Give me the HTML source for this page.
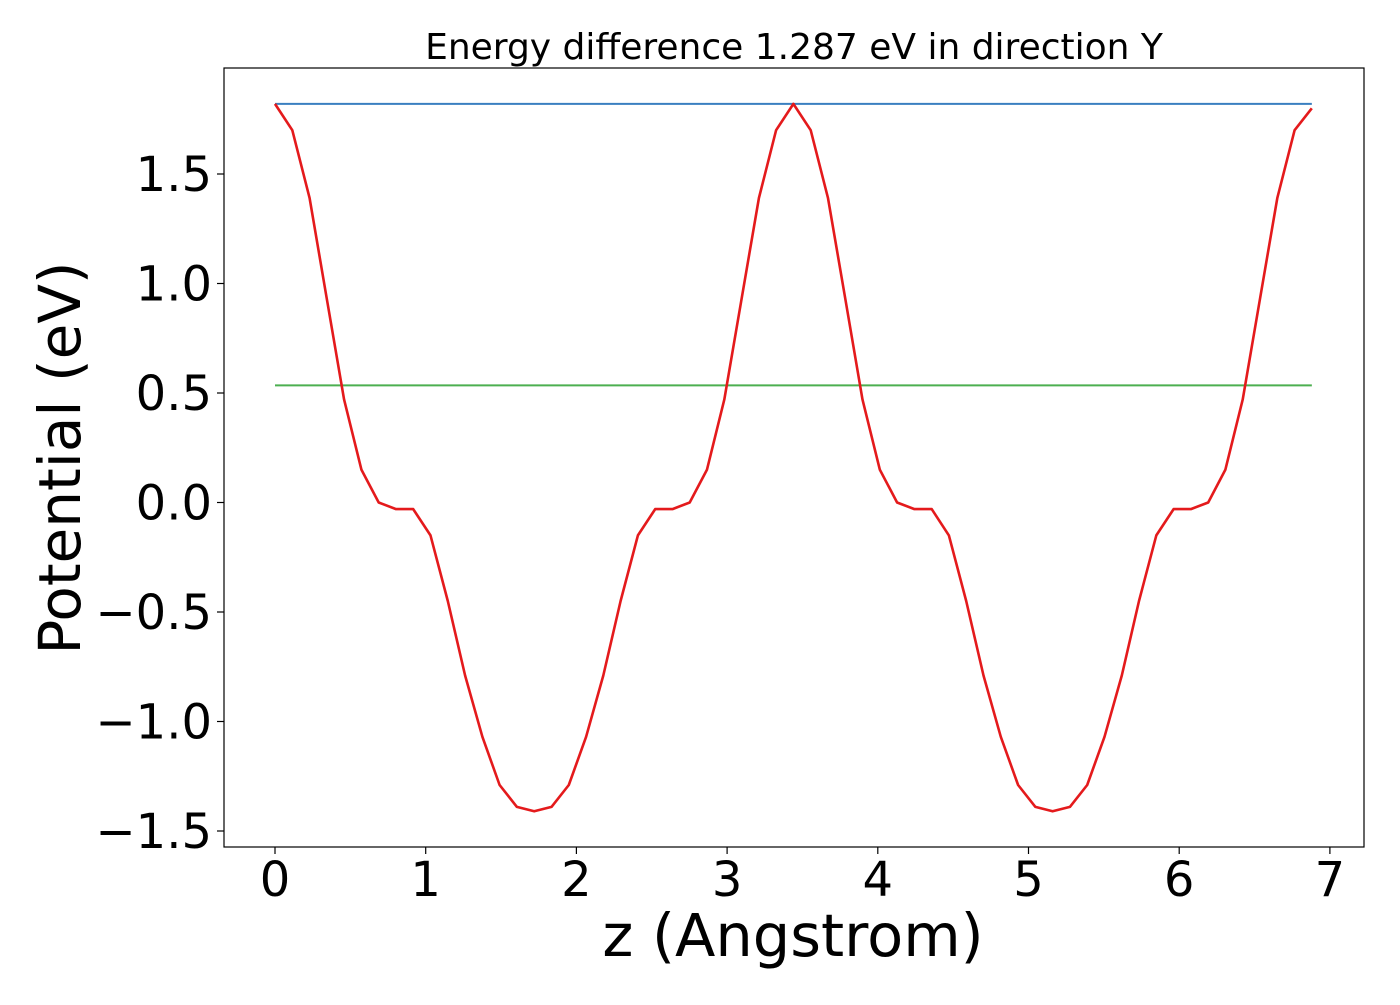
<!DOCTYPE html>
<html><head><meta charset="utf-8"><style>
body{margin:0;background:#fff;}
svg text{font-family:"DejaVu Sans","Liberation Sans",sans-serif;fill:#000;}
</style></head><body>
<svg id="chart" width="1400" height="1000" viewBox="0 0 1400 1000">
<rect width="1400" height="1000" fill="#fff"/>
<text x="794" y="59" font-size="36" text-anchor="middle">Energy difference 1.287 eV in direction Y</text>
<g id="plot"></g>
<rect x="224" y="68" width="1140" height="779" fill="none" stroke="#000" stroke-width="1.2"/>
<g id="xt"></g>
<g id="yt"></g>
<text x="793" y="956" font-size="59" text-anchor="middle">z (Angstrom)</text>
<text transform="translate(80,458) rotate(-90)" font-size="58" text-anchor="middle">Potential (eV)</text>
</svg>
<script>
const zStep = 0.11467;
const potential = [1.82,1.70,1.39,0.93,0.47,0.15,0.00,-0.03,-0.03,-0.15,-0.45,-0.79,-1.07,-1.29,-1.39,-1.41,
-1.39,-1.29,-1.07,-0.79,-0.45,-0.15,-0.03,-0.03,0.00,0.15,0.47,0.93,1.39,1.70,1.82,
1.70,1.39,0.93,0.47,0.15,0.00,-0.03,-0.03,-0.15,-0.45,-0.79,-1.07,-1.29,-1.39,-1.41,
-1.39,-1.29,-1.07,-0.79,-0.45,-0.15,-0.03,-0.03,0.00,0.15,0.47,0.93,1.39,1.70,1.80];
const maxLevel = 1.82;
const meanLevel = 0.535;
const xTicks = [0,1,2,3,4,5,6,7];
const yTicks = [-1.5,-1.0,-0.5,0.0,0.5,1.0,1.5];
const xTickLabels = ["0","1","2","3","4","5","6","7"];
const yTickLabels = ["\u22121.5","\u22121.0","\u22120.5","0.0","0.5","1.0","1.5"];

const NS="http://www.w3.org/2000/svg";
const X = z => 275 + z*150.7;
const Y = v => 502.5 - v*219;
const plot=document.getElementById('plot');
function mk(tag,attrs,parent){const e=document.createElementNS(NS,tag);for(const k in attrs)e.setAttribute(k,attrs[k]);parent.appendChild(e);return e;}
const zEnd=(potential.length-1)*zStep;
let l1=mk('line',{x1:X(0),x2:X(zEnd),y1:Y(maxLevel),y2:Y(maxLevel),stroke:'#3a7fc0','stroke-width':2},plot);


let l2=mk('line',{x1:X(0),x2:X(zEnd),y1:Y(meanLevel),y2:Y(meanLevel),stroke:'#4caf50','stroke-width':2},plot);


const pts=potential.map((v,i)=>X(i*zStep).toFixed(1)+','+Y(v).toFixed(1)).join(' ');
let pl=mk('polyline',{points:pts,fill:'none',stroke:'#e41a1c','stroke-width':2.6,'stroke-linejoin':'round'},plot);


const xt=document.getElementById('xt');
xTicks.forEach((t,i)=>{
  let tk=mk('line',{x1:X(t),x2:X(t),y1:847,y2:854,stroke:'#000','stroke-width':1.2},xt);
  
  
  let tx=mk('text',{x:X(t),y:896,'font-size':48,'text-anchor':'middle'},xt);
  tx.textContent=xTickLabels[i];
  
  
});
const yt=document.getElementById('yt');
yTicks.forEach((t,i)=>{
  let tk=mk('line',{x1:217,x2:224,y1:Y(t),y2:Y(t),stroke:'#000','stroke-width':1.2},yt);
  
  
  let tx=mk('text',{x:212,y:Y(t)+17,'font-size':48,'text-anchor':'end'},yt);
  tx.textContent=yTickLabels[i];
  
  
});
</script>
</body></html>
